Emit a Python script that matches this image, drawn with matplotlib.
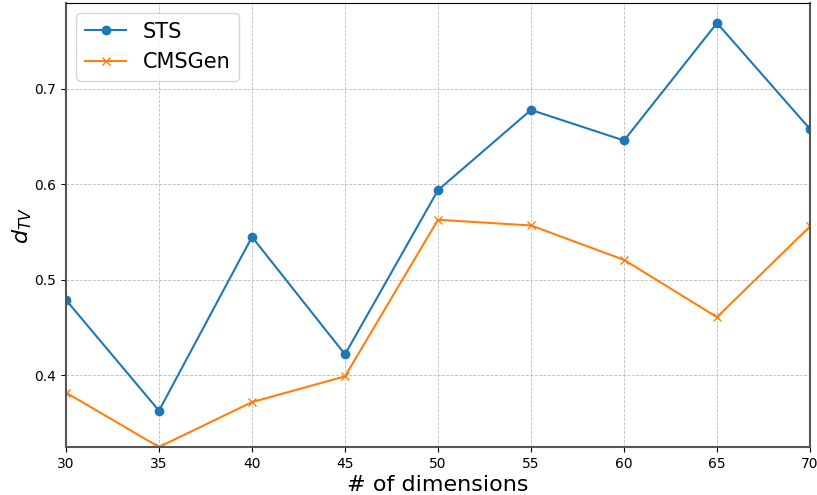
import matplotlib.pyplot as plt

dims = [30, 35, 40, 45, 50, 55, 60, 65, 70]
sts = [0.479, 0.363, 0.545, 0.422, 0.594, 0.678, 0.646, 0.769, 0.658]
cmsgen = [0.382, 0.325, 0.372, 0.399, 0.563, 0.557, 0.521, 0.461, 0.556]

fig = plt.figure(figsize=(8.17, 4.95), dpi=100)
ax = fig.add_axes([66 / 817, 48 / 495, 744 / 817, 444 / 495])

ax.plot(dims, sts, marker="o", markersize=6, color="#1f77b4", label="STS")
ax.plot(dims, cmsgen, marker="x", markersize=6, color="#ff7f0e", label="CMSGen")

ax.set_xlim(30, 70)
ax.set_ylim(0.325, 0.79)
ax.set_xticks(dims)
ax.set_yticks([0.4, 0.5, 0.6, 0.7])
ax.tick_params(labelsize=10)
ax.grid(True, linestyle="--", linewidth=0.6, color="#bbbbbb")

for side in ["left", "right", "bottom"]:
    ax.spines[side].set_color("#555555")
    ax.spines[side].set_linewidth(1.5)

ax.set_xlabel("# of dimensions", fontsize=16, labelpad=3)
ax.set_ylabel("$d_{TV}$", fontsize=16, labelpad=0)
ax.legend(loc="upper left", fontsize=15)

fig.savefig("out.png", dpi=100)
